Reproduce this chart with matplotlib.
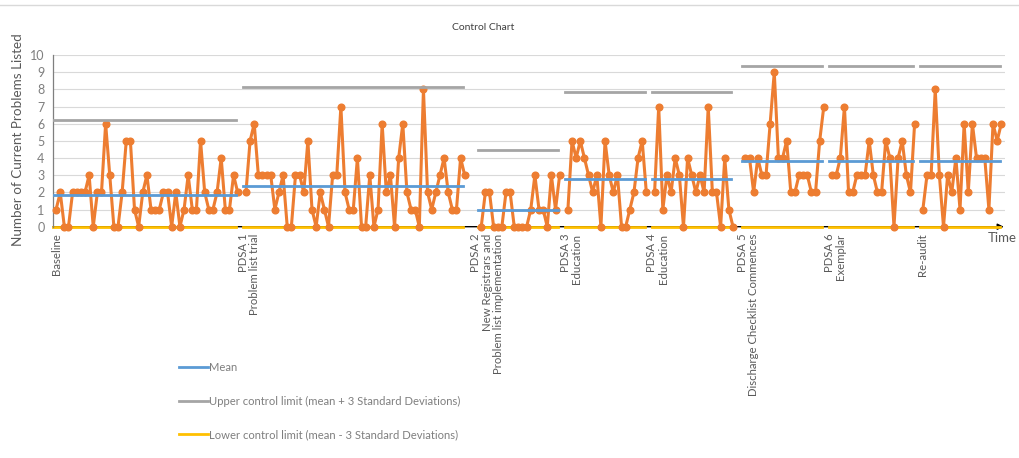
import matplotlib.pyplot as plt
from matplotlib.lines import Line2D

plt.rcParams["font.family"] = ["Lato", "DejaVu Sans"]

# phases shown under the x axis
phases = [
    "Baseline",
    "PDSA 1\nProblem list trial",
    "PDSA 2\nNew Registrars and\nProblem list implementation",
    "PDSA 3\nEducation",
    "PDSA 4\nEducation",
    "PDSA 5\nDischarge Checklist Commences",
    "PDSA 6\nExemplar",
    "Re-audit",
]

# number of current problems listed, per phase
baseline = [1, 2, 0, 0, 2, 2, 2, 2, 3, 0, 2, 2, 6, 3, 0, 0, 2, 5, 5, 1, 0, 2, 3,
            1, 1, 1, 2, 2, 0, 2, 0, 1, 3, 1, 1, 5, 2, 1, 1, 2, 4, 1, 1, 3, 2]
pdsa1 = [2, 5, 6, 3, 3, 3, 3, 1, 2, 3, 0, 0, 3, 3, 2, 5, 1, 0, 2, 1, 0, 3, 3, 7,
         2, 1, 1, 4, 0, 0, 3, 0, 1, 6, 2, 3, 0, 4, 6, 2, 1, 1, 0, 8, 2, 1, 2, 3,
         4, 2, 1, 1, 4, 3]
pdsa2 = [0, 2, 2, 0, 0, 0, 2, 2, 0, 0, 0, 0, 1, 3, 1, 1, 0, 3, 1, 3]
pdsa3 = [1, 5, 4, 5, 4, 3, 2, 3, 0, 5, 3, 2, 3, 0, 0, 1, 2, 4, 5, 2]
pdsa4 = [2, 7, 1, 3, 2, 4, 3, 0, 4, 3, 2, 3, 2, 7, 2, 2, 0, 4, 1, 0]
pdsa5 = [4, 4, 2, 4, 3, 3, 6, 9, 4, 4, 5, 2, 2, 3, 3, 3, 2, 2, 5, 7]
pdsa6 = [3, 3, 4, 7, 2, 2, 3, 3, 3, 5, 3, 2, 2, 5, 4, 0, 4, 5, 3, 2, 6]
reaudit = [1, 3, 3, 8, 3, 0, 3, 2, 4, 1, 6, 2, 6, 4, 4, 4, 1, 6, 5, 6]
series = [baseline, pdsa1, pdsa2, pdsa3, pdsa4, pdsa5, pdsa6, reaudit]

# blank categories between consecutive phases
blanks = [1, 3, 1, 1, 2, 1, 1]

# control limits per phase
means = [1.82, 2.38, 1.0, 2.75, 2.75, 3.83, 3.83, 3.83]
ucl = [6.24, 8.14, 4.46, 7.82, 7.82, 9.36, 9.36, 9.36]
lcl = [0, 0, 0, 0, 0, 0, 0, 0]

ORANGE = "#ED7D31"
BLUE = "#5B9BD5"
GREY = "#A5A5A5"
YELLOW = "#FFC000"
TXT = "#595959"

fig = plt.figure(figsize=(10.19, 4.58), dpi=100)
ax = fig.add_axes([53 / 1019, 1 - 226.7 / 458, 952 / 1019, 171.7 / 458])

starts = [0]
for n, b in zip(series[:-1], blanks):
    starts.append(starts[-1] + len(n) + b)

for s, vals, m, u, l in zip(starts, series, means, ucl, lcl):
    xs = list(range(s, s + len(vals)))
    ax.plot(xs, vals, color=ORANGE, lw=2.2, marker="o", ms=4.8, zorder=3, clip_on=False)
    x0, x1 = s - 0.7, xs[-1] - 0.4
    ax.plot([x0, x1], [m, m], color=BLUE, lw=2, zorder=4)
    ax.plot([x0, x1], [u, u], color=GREY, lw=2, zorder=4)
    ax.plot([x0, x1], [l, l], color=YELLOW, lw=2, zorder=2.5, clip_on=False)

for s, name in zip(starts, phases):
    nl = name.count("\n")
    ax.text(s + 0.7 * nl, -0.4, name, rotation=90, ha="center", va="top",
            multialignment="right", fontsize=8.2, color=TXT, linespacing=1.05)

# x axis with arrow
ax.annotate("", xy=(229.6, 0), xytext=(-0.75, 0), annotation_clip=False,
            arrowprops=dict(arrowstyle="-|>", color="black", lw=1,
                            mutation_scale=9, shrinkA=0, shrinkB=0), zorder=2)
ax.text(229.3, -0.65, "Time", ha="center", va="center", fontsize=9.5, color=TXT)

ax.set_xlim(-0.75, 229.9)
ax.set_ylim(0, 10)
ax.set_yticks(range(0, 11))
ax.set_xticks([])
ax.tick_params(axis="y", length=0, labelsize=9, labelcolor="#7F7F7F", pad=6)
ax.grid(axis="y", color="#D9D9D9", lw=0.8)
ax.set_axisbelow(True)
for sp in ["top", "right", "bottom"]:
    ax.spines[sp].set_visible(False)
ax.spines["left"].set_color("#7F7F7F")
ax.spines["left"].set_linewidth(0.9)

fig.text(18 / 1019, 1 - 140 / 458, "Number of Current Problems Listed", rotation=90,
         ha="center", va="center", fontsize=9.7, color=TXT)
fig.text(483 / 1019, 1 - 27 / 458, "Control Chart", ha="center", va="center",
         fontsize=7.5, color="#404040")
fig.add_artist(Line2D([0, 1], [1 - 5 / 458, 1 - 5 / 458], color="#D9D9D9", lw=1))

handles = [
    Line2D([], [], color=BLUE, lw=2),
    Line2D([], [], color=GREY, lw=2),
    Line2D([], [], color=YELLOW, lw=2),
]
labels = [
    "Mean",
    "Upper control limit (mean + 3 Standard Deviations)",
    "Lower control limit (mean - 3 Standard Deviations)",
]
leg = fig.legend(handles, labels, loc="upper left", bbox_to_anchor=(179 / 1019, 1 - 362 / 458),
                 frameon=False, fontsize=8.1, handlelength=2.6, handletextpad=0.1,
                 labelspacing=2.0, borderpad=0, borderaxespad=0)
for t in leg.get_texts():
    t.set_color("#7F7F7F")

fig.savefig("out.png", dpi=100)
